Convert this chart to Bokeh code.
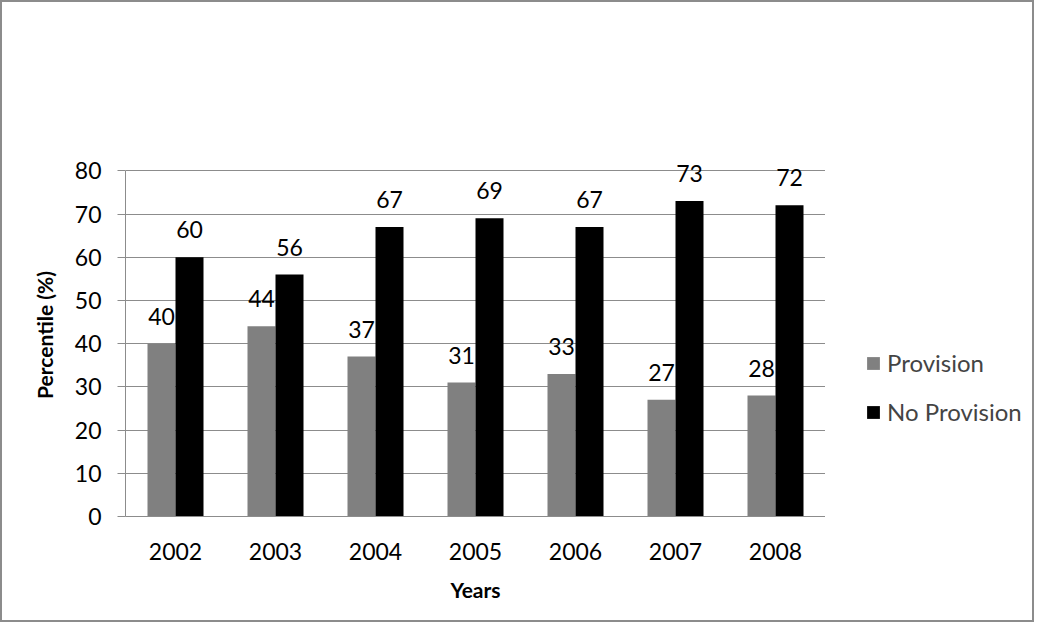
from bokeh.plotting import figure
from bokeh.layouts import row
from bokeh.models import ColumnDataSource, Legend, LegendItem, FactorRange, LabelSet
from bokeh.transform import dodge
from bokeh.core.properties import value
from bokeh.embed import file_html
from bokeh.resources import INLINE

years = ["2002", "2003", "2004", "2005", "2006", "2007", "2008"]
provision = [40, 44, 37, 31, 33, 27, 28]
no_provision = [60, 56, 67, 69, 67, 73, 72]
series_names = ["Provision", "No Provision"]
series_colors = ["#808080", "#000000"]
y_ticks = [0, 10, 20, 30, 40, 50, 60, 70, 80]

src = ColumnDataSource(dict(years=years, provision=provision, no_provision=no_provision,
                            p_lab=[str(v) for v in provision], n_lab=[str(v) for v in no_provision]))

FONT = "Lato"
p = figure(x_range=FactorRange(*years), y_range=(0, 84), width=823, height=618,
           output_backend="svg", toolbar_location=None,
           min_border_left=123, min_border_right=0, min_border_top=151, min_border_bottom=104)
p.outline_line_color = None
p.x_range.range_padding = 0

p.vbar(x=dodge("years", -0.14, range=p.x_range), top="provision", width=0.28, source=src,
       fill_color=series_colors[0], line_color=None)
p.vbar(x=dodge("years", 0.14, range=p.x_range), top="no_provision", width=0.28, source=src,
       fill_color=series_colors[1], line_color=None)

for col, lab, off in [("provision", "p_lab", -0.14), ("no_provision", "n_lab", 0.14)]:
    p.add_layout(LabelSet(x=dodge("years", off, range=p.x_range), y=col, text=lab, source=src,
                          text_align="center", y_offset=19, text_font=value(FONT),
                          text_font_size="23px", text_color="#000000"))

p.yaxis.ticker = y_ticks
p.yaxis.bounds = (0, 80)
p.ygrid.grid_line_color = "#8c8c8c"
p.ygrid.grid_line_width = 1
p.xgrid.grid_line_color = None

for ax in (p.xaxis[0], p.yaxis[0]):
    ax.axis_line_color = "#8c8c8c"
    ax.major_label_text_font = FONT
    ax.major_label_text_font_size = "23px"
    ax.major_label_text_color = "#000000"
    ax.axis_label_text_font = FONT
    ax.axis_label_text_font_size = "21px"
    ax.axis_label_text_font_style = "bold"
    ax.axis_label_text_color = "#000000"
    ax.minor_tick_line_color = None

p.yaxis.major_tick_line_color = "#8c8c8c"
p.yaxis.major_tick_out = 8
p.yaxis.major_tick_in = 0
p.yaxis.major_label_standoff = 16
p.yaxis.axis_label = "Percentile (%)"
p.yaxis.axis_label_standoff = 15

p.xaxis.major_tick_line_color = None
p.xaxis.major_label_standoff = 20
p.xaxis.axis_label = "Years"
p.xaxis.axis_label_standoff = 14

# legend panel
p2 = figure(width=207, height=618, x_range=(0, 1), y_range=(0, 1), output_backend="svg",
            toolbar_location=None, min_border=0)
p2.outline_line_color = None
p2.axis.visible = False
p2.grid.grid_line_color = None
items = []
for name, color in zip(series_names, series_colors):
    r = p2.vbar(x=[0.5], top=[0.5], width=0.1, fill_color=color, line_color=None, visible=False)
    items.append(LegendItem(label=name, renderers=[r]))
legend = Legend(items=items, location=(40, 90), border_line_color=None, background_fill_alpha=0,
                label_text_font=FONT, label_text_font_size="24px", glyph_width=16, glyph_height=16,
                label_height=26, spacing=20, label_standoff=6, margin=0, padding=4,
                inactive_fill_alpha=0, click_policy="none")
p2.add_layout(legend, "center")

layout = row(p, p2, styles={"border": "2px solid #8c8c8c"})
open("out.html", "w").write(file_html(layout, INLINE))
